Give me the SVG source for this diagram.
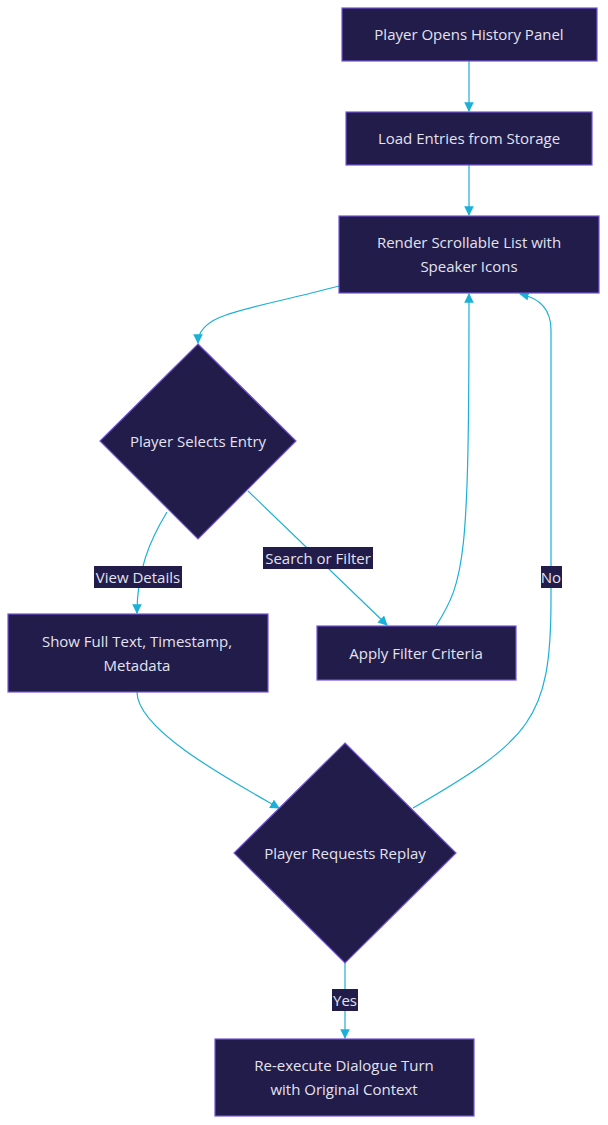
<svg xmlns="http://www.w3.org/2000/svg" width="608" height="1125" viewBox="0 0 608 1125">
<style>
.n{fill:#211c4a;stroke:#7354d6;stroke-width:1.2}
.t{font-family:"Open Sans","DejaVu Sans",sans-serif;font-size:15px;fill:#e4e2ee;text-anchor:middle;dominant-baseline:central}
.e{fill:none;stroke:#1bb0d6;stroke-width:1.2;marker-end:url(#a)}
.lb{fill:#211c4a}
</style>
<defs><marker id="a" viewBox="0 0 10 10" refX="9" refY="5" markerWidth="8" markerHeight="8" orient="auto"><path d="M0,0L10,5L0,10z" fill="#1bb0d6"/></marker></defs>
<rect width="608" height="1125" fill="#fff"/>
<g id="edges">
<path class="e" d="M469,61V111"/>
<path class="e" d="M469,165V215"/>
<path class="e" d="M339,286C250,310 198,312 198,343"/>
<path class="e" d="M167,512C150,540 137,570 137,613"/>
<path class="e" d="M248,491L387,625"/>
<path class="e" d="M436,626C465,580 469,560 469,294"/>
<path class="e" d="M413,808C530,740 551,720 551,600L551,330C551,305 535,297 520,294"/>
<path class="e" d="M137,692C137,730 230,780 279,808"/>
<path class="e" d="M345,963V1038"/>
<rect class="lb" x="94" y="566" width="88" height="22"/><text class="t" x="138" y="577">View Details</text>
<rect class="lb" x="263" y="547" width="110" height="22"/><text class="t" x="318" y="558">Search or Filter</text>
<rect class="lb" x="541" y="566" width="21" height="22"/><text class="t" x="551" y="577">No</text>
<rect class="lb" x="332" y="989" width="26" height="22"/><text class="t" x="345" y="1000">Yes</text>
</g>
<g id="n1"><rect class="n" x="342" y="8" width="255" height="53"/><text class="t" x="469" y="34">Player Opens History Panel</text></g>
<g id="n2"><rect class="n" x="346" y="112" width="246" height="53"/><text class="t" x="469" y="138">Load Entries from Storage</text></g>
<g id="n3"><rect class="n" x="339" y="216" width="260" height="77"/><text class="t" x="469" y="242">Render Scrollable List with</text><text class="t" x="469" y="266">Speaker Icons</text></g>
<g id="d1"><polygon class="n" points="198,344 296,441 198,539 100,441"/><text class="t" x="198" y="441">Player Selects Entry</text></g>
<g id="n4"><rect class="n" x="8" y="614" width="260" height="78"/><text class="t" x="137" y="641">Show Full Text, Timestamp,</text><text class="t" x="137" y="665">Metadata</text></g>
<g id="n5"><rect class="n" x="317" y="626" width="199" height="54"/><text class="t" x="416" y="653">Apply Filter Criteria</text></g>
<g id="d2"><polygon class="n" points="345,743 456,853 345,963 234,853"/><text class="t" x="345" y="853">Player Requests Replay</text></g>
<g id="n6"><rect class="n" x="215" y="1039" width="259" height="77"/><text class="t" x="344" y="1065">Re-execute Dialogue Turn</text><text class="t" x="344" y="1089">with Original Context</text></g>
</svg>
